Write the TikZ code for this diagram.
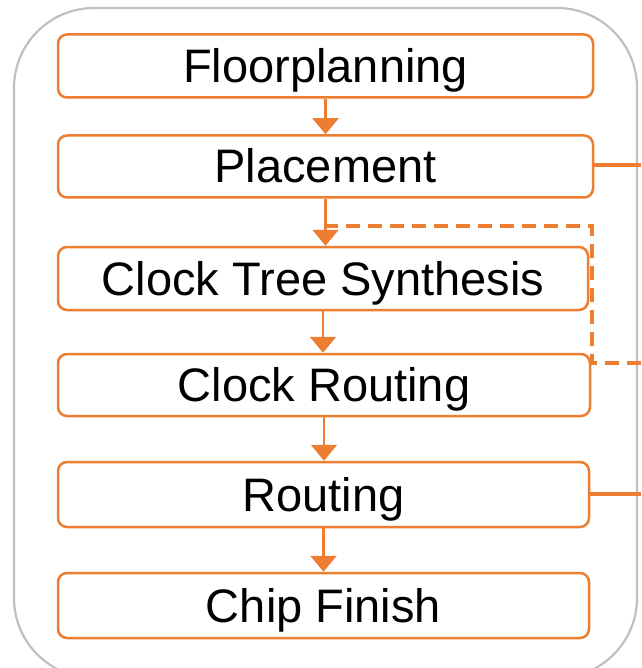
\documentclass[tikz,border=0pt]{standalone}
\usepackage{fontspec}
\setmainfont{Liberation Sans}
\usetikzlibrary{arrows.meta,calc}
\definecolor{flow}{HTML}{ED7D31}
\definecolor{frame}{HTML}{C0C0C0}
\tikzset{
  stepbox/.style={draw=flow, line width=2.5pt, rounded corners=9pt, fill=white,
    inner sep=0pt, text height=33pt, text depth=0pt,
    font=\fontsize{47}{56}\selectfont},
  flowarrow/.style={draw=flow, line width=2.2pt, -{Triangle[width=26pt,length=16pt]}},
  sideline/.style={draw=flow, line width=4pt},
  feedback/.style={draw=flow, line width=4pt, dash pattern=on 14pt off 8pt}
}
\begin{document}
\begin{tikzpicture}[x=1pt,y=-1pt]
\useasboundingbox (0,0) rectangle (641,668);
\clip (0,0) rectangle (641,668);
\draw[frame, line width=2.2pt, rounded corners=80pt] (14,8) rectangle (637,678);

\node[stepbox, minimum width=535pt, minimum height=63pt] (fp) at (325.5,66) {Floorplanning};
\node[stepbox, minimum width=535pt, minimum height=62pt] (pl) at (325.5,166.5) {Placement};
\node[stepbox, minimum width=530pt, minimum height=63pt] (cts) at (323,278.5) {Clock Tree Synthesis};
\node[stepbox, minimum width=532pt, minimum height=62pt] (cr) at (324,385) {Clock Routing};
\node[stepbox, minimum width=531pt, minimum height=65pt] (rt) at (323.5,494.5) {Routing};
\node[stepbox, minimum width=531pt, minimum height=65pt] (cf) at (323.5,605.5) {Chip Finish};

\draw[flowarrow] (fp.south) -- (fp.south |- pl.north);
\draw[flowarrow] (pl.south) -- (pl.south |- cts.north);
\draw[flowarrow] (cts.south) -- (cts.south |- cr.north);
\draw[flowarrow] (cr.south) -- (cr.south |- rt.north);
\draw[flowarrow] (rt.south) -- (rt.south |- cf.north);

\coordinate (plout) at (641,165);
\coordinate (rtout) at (641,494);
\coordinate (fbin) at (641,363);
\coordinate (fbcorner) at (592,363);
\coordinate (fbtop) at (592,226);
\coordinate (fbjoin) at (pl.south |- fbtop);

\draw[sideline] (pl.east |- plout) -- (plout);
\draw[sideline] (rt.east |- rtout) -- (rtout);
\draw[feedback] (fbin) -- (fbcorner) -- (fbtop) -- (fbjoin);
\end{tikzpicture}
\end{document}
